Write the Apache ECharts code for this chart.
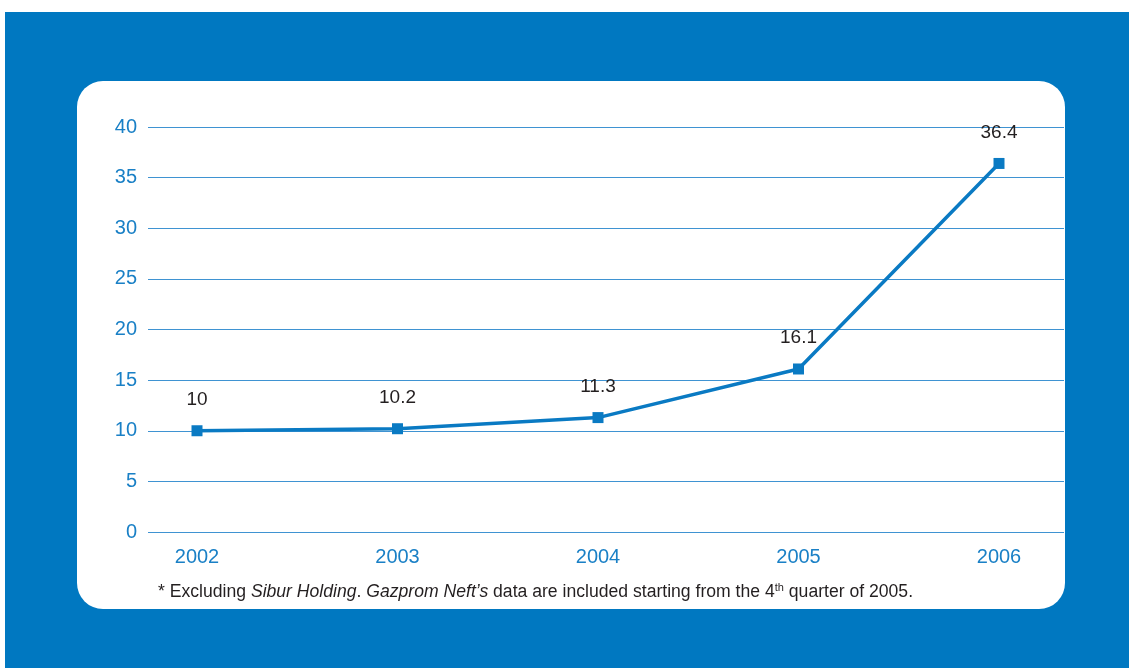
<!DOCTYPE html>
<html>
<head>
<meta charset="utf-8">
<script src="https://cdn.jsdelivr.net/npm/echarts@6/dist/echarts.min.js"></script>
<style>
  html, body { margin: 0; padding: 0; background: #fff; }
  #chart { width: 1129px; height: 668px; }
</style>
</head>
<body>
<div id="chart"></div>
<script>
  // values
  let years = ['2002', '2003', '2004', '2005', '2006']
  let values = [10, 10.2, 11.3, 16.1, 36.4]
  let yTicks = [0, 5, 10, 15, 20, 25, 30, 35, 40]

  let blue = '#0078c1'
  let font = '"Liberation Sans Narrow", "Liberation Sans", sans-serif'

  let chart = echarts.init(document.getElementById('chart'))

  let option = {
    animation: false,
    textStyle: { fontFamily: font },
    graphic: [
      {
        type: 'rect', z: -10, silent: true,
        shape: { x: 5, y: 12, width: 1124, height: 656 },
        style: { fill: blue }
      },
      {
        type: 'rect', z: -9, silent: true,
        shape: { x: 77, y: 81, width: 988, height: 528, r: 26 },
        style: { fill: '#fff' }
      }
    ],
    title: {
      left: 153,
      top: 577,
      text: '{a|* Excluding }{i|Sibur Holding}{a|. }{i|Gazprom Neft\u2019s}{a| data are included starting from the 4}{s|th}{a| quarter of 2005.}',
      textStyle: {
        fontWeight: 'normal',
        rich: {
          a: { fontFamily: font, fontSize: 17.6, color: '#231f20', fontWeight: 'normal' },
          i: { fontFamily: font, fontSize: 17.6, color: '#231f20', fontStyle: 'italic', fontWeight: 'normal' },
          s: { fontFamily: font, fontSize: 11, color: '#231f20', fontWeight: 'normal', padding: [0, 0, 10, 0] }
        }
      }
    },
    grid: [
      { left: 197, right: 130, top: 127, bottom: 136 },
      { left: 148, right: 65, top: 127, bottom: 136 }
    ],
    xAxis: [
      {
        gridIndex: 0,
        type: 'category',
        data: years,
        boundaryGap: false,
        axisLine: { show: false },
        axisTick: { show: false },
        axisLabel: { color: '#1a80c6', fontSize: 20, margin: 15, fontFamily: font }
      },
      {
        gridIndex: 1,
        type: 'value',
        show: false,
        min: 0,
        max: 1
      }
    ],
    yAxis: [
      {
        gridIndex: 0,
        type: 'value',
        min: 0,
        max: 40,
        interval: 5,
        show: false
      },
      {
        gridIndex: 1,
        type: 'value',
        min: yTicks[0],
        max: yTicks[yTicks.length - 1],
        interval: 5,
        axisLine: { show: false },
        axisTick: { show: false },
        axisLabel: { color: '#1a80c6', fontSize: 20, margin: 11, fontFamily: font },
        splitLine: { lineStyle: { color: '#3f93d2', width: 1.2 } }
      }
    ],
    series: [
      {
        type: 'line',
        xAxisIndex: 0,
        yAxisIndex: 0,
        data: values,
        symbol: 'rect',
        symbolSize: 11,
        lineStyle: { color: '#0a7ac3', width: 3.5 },
        itemStyle: { color: '#0a7ac3' },
        label: {
          show: true,
          position: 'top',
          distance: 16,
          color: '#231f20',
          fontSize: 19,
          fontFamily: font
        }
      }
    ]
  }
  chart.setOption(option)
</script>
</body>
</html>
